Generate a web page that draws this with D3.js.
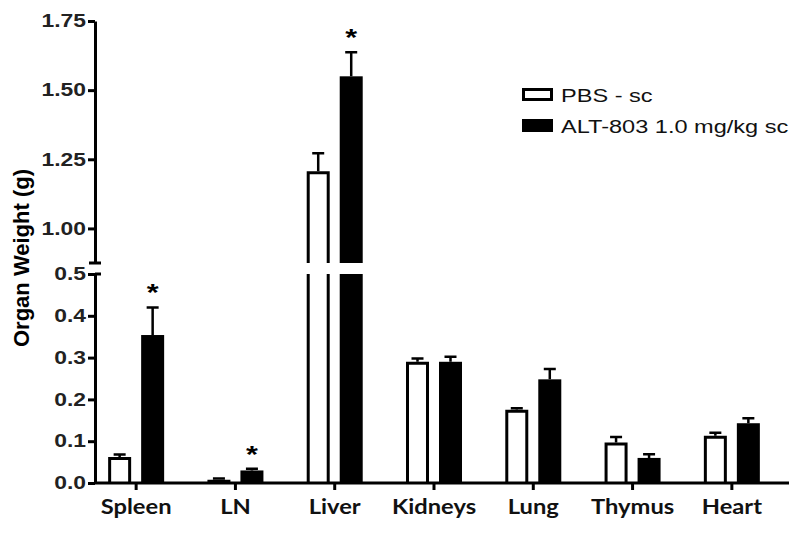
<!DOCTYPE html>
<html>
<head>
<meta charset="utf-8">
<script src="https://cdn.jsdelivr.net/npm/d3@7"></script>
<style>
  body { margin: 0; background: #fff; }
</style>
</head>
<body>
<div id="chart"></div>
<script>
let organs = ["Spleen", "LN", "Liver", "Kidneys", "Lung", "Thymus", "Heart"]
let series = ["PBS - sc", "ALT-803 1.0 mg/kg sc"]
let pbsMean = [0.062, 0.008, 1.207, 0.290, 0.175, 0.097, 0.113]
let pbsErr = [0.006, 0.003, 0.065, 0.008, 0.004, 0.013, 0.007]
let altMean = [0.354, 0.030, 1.550, 0.290, 0.248, 0.060, 0.143]
let altErr = [0.066, 0.004, 0.087, 0.012, 0.025, 0.009, 0.012]
let starred = ["Spleen", "LN", "Liver"]
let lowerTicks = [0, 0.1, 0.2, 0.3, 0.4, 0.5]
let upperTicks = [1.0, 1.25, 1.5, 1.75]

let width = 800, height = 535
let svg = d3.select("#chart").append("svg")
  .attr("width", width).attr("height", height)

// the original picture is a bit wider than tall, so text is stretched sideways
let sx = 1.27
let arial = "Liberation Sans"
let axisX = 95
let breakLow = 0.5, breakHigh = 0.875

let x = d3.scaleBand().domain(organs).range([86.5, 781.5])
let yLow = d3.scaleLinear().domain([0, breakLow]).range([483, 274])
let yHigh = d3.scaleLinear().domain([breakHigh, 1.75]).range([263, 21])

let barW = 23, gap = 10
let data = []
organs.forEach((o, i) => {
  data.push({ organ: o, s: 0, v: pbsMean[i], e: pbsErr[i] })
  data.push({ organ: o, s: 1, v: altMean[i], e: altErr[i] })
})
let bx = d => x(d.organ) + x.bandwidth() / 2 + (d.s == 0 ? -gap / 2 - barW : gap / 2)
let yv = v => v > breakLow ? yHigh(v) : yLow(v)

let bars = svg.append("g")
data.forEach(d => {
  let x0 = bx(d), x1 = x0 + barW
  let parts = d.v > breakLow
    ? [[yLow(0), yLow(breakLow), false], [yHigh(breakHigh), yHigh(d.v), true]]
    : [[yLow(0), yLow(d.v), true]]
  parts.forEach(p => {
    if (d.s == 1) {
      bars.append("rect").attr("x", x0).attr("y", p[1]).attr("width", barW)
        .attr("height", p[0] - p[1]).attr("fill", "#000")
    } else {
      let h = 1.5
      let path = p[2]
        ? `M${x0 + h},${p[0]}V${p[1] + h}H${x1 - h}V${p[0]}`
        : `M${x0 + h},${p[0]}V${p[1]}M${x1 - h},${p[1]}V${p[0]}`
      bars.append("rect").attr("x", x0).attr("y", p[1]).attr("width", barW)
        .attr("height", p[0] - p[1]).attr("fill", "#fff")
      bars.append("path").attr("d", path).attr("fill", "none")
        .attr("stroke", "#000").attr("stroke-width", 3)
    }
  })
  // error bar, upper half only
  let cx = x0 + barW / 2
  let top = yv(d.v + d.e)
  bars.append("path")
    .attr("d", `M${cx},${yv(d.v)}V${top}M${cx - 6},${top}H${cx + 6}`)
    .attr("stroke", "#000").attr("stroke-width", 2.5).attr("fill", "none")
  if (d.s == 1 && starred.includes(d.organ)) {
    bars.append("text")
      .attr("transform", `translate(${cx},${top - 6}) scale(${sx},1)`)
      .attr("text-anchor", "middle")
      .attr("font-family", arial).attr("font-weight", "bold").attr("font-size", 24)
      .text("*")
  }
})

// broken y axis
let lowAxis = svg.append("g").attr("transform", `translate(${axisX},0)`)
  .call(d3.axisLeft(yLow).tickValues(lowerTicks).tickFormat(d3.format(".1f"))
    .tickSize(7).tickSizeOuter(0))
let highAxis = svg.append("g").attr("transform", `translate(${axisX},0)`)
  .call(d3.axisLeft(yHigh).tickValues(upperTicks).tickFormat(d3.format(".2f"))
    .tickSize(7).tickSizeOuter(0))
;[lowAxis, highAxis].forEach(g => {
  g.attr("font-family", arial).attr("font-size", 18).attr("font-weight", "bold")
  g.select(".domain").attr("stroke-width", 3)
  g.selectAll(".tick line").attr("stroke-width", 3)
  g.selectAll(".tick text").attr("fill", "#222").attr("x", -9 / sx)
    .attr("transform", `scale(${sx},1)`)
})
svg.append("path")
  .attr("d", `M${axisX - 6},${yHigh(breakHigh)}H${axisX + 6}M${axisX},${yLow(breakLow)}H${axisX + 6}`)
  .attr("stroke", "#000").attr("stroke-width", 3)

// x axis
let xAxis = svg.append("g").attr("transform", `translate(0,${yLow(0)})`)
  .call(d3.axisBottom(x).tickSize(7).tickSizeOuter(0))
xAxis.attr("font-family", "Lato").attr("font-size", 21).attr("font-weight", "bold")
xAxis.select(".domain").attr("d", `M${axisX},0H789`).attr("stroke-width", 3)
xAxis.selectAll(".tick line").attr("stroke-width", 3)
xAxis.selectAll(".tick text").attr("fill", "#111").attr("y", 16)
  .attr("transform", "scale(1.13,1)")

// y label
svg.append("text")
  .attr("transform", "translate(29,258) rotate(-90)")
  .attr("text-anchor", "middle")
  .attr("font-family", arial).attr("font-weight", "bold").attr("font-size", 22)
  .text("Organ Weight (g)")

// legend
let legend = svg.append("g").attr("transform", "translate(522,88)")
series.forEach((s, i) => {
  let g = legend.append("g").attr("transform", `translate(0,${i * 31})`)
  g.append("rect").attr("x", 1.5).attr("y", 1.5).attr("width", 28).attr("height", 10)
    .attr("fill", i == 0 ? "#fff" : "#000").attr("stroke", "#000").attr("stroke-width", 3)
  g.append("text").attr("transform", `translate(39,7) scale(1.24,1)`).attr("dy", "0.35em")
    .attr("font-family", arial).attr("font-size", 19).attr("fill", "#111")
    .text(s)
})
</script>
</body>
</html>
